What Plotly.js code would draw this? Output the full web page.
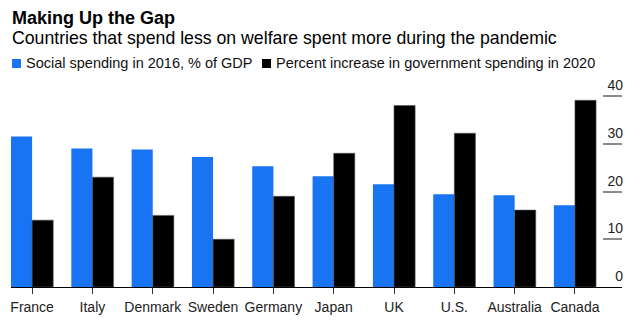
<!DOCTYPE html>
<html>
<head>
<meta charset="utf-8">
<script src="https://cdn.plot.ly/plotly-3.0.1.min.js"></script>
<style>html,body{margin:0;padding:0;background:#fff;}#chart{width:640px;height:326px;}</style>
</head>
<body>
<div id="chart"></div>
<script>
var countries = ["France", "Italy", "Denmark", "Sweden", "Germany", "Japan", "UK", "U.S.", "Australia", "Canada"];
var socialSpending2016 = [31.5, 29.0, 28.8, 27.2, 25.3, 23.2, 21.5, 19.4, 19.2, 17.1];
var spendingIncrease2020 = [14.0, 23.0, 15.0, 10.0, 19.0, 28.0, 38.0, 32.2, 16.1, 39.1];
var seriesNames = ["Social spending in 2016, % of GDP", "Percent increase in government spending in 2020"];
var seriesColors = ["#1874f2", "#000000"];
var yTickVals = [0, 10, 20, 30, 40];

var fontFam = "'Liberation Sans', Arial, Helvetica, sans-serif";

// pixel helpers for layout placement (plot area: x 11..622, y 70..287)
var L = 11, PW = 611, T = 70, B = 287, PH = B - T;
function px(x) { return (x - L) / PW; }
function py(y) { return (B - y) / PH; }
var yTop = PH / 4.775; // keeps 0 at y=287 and 40 at y=96

var traces = [
  {type: "bar", x: countries, y: socialSpending2016, name: seriesNames[0],
   marker: {color: seriesColors[0], line: {width: 0}}, hoverinfo: "x+y"},
  {type: "bar", x: countries, y: spendingIncrease2020, name: seriesNames[1],
   marker: {color: seriesColors[1], line: {width: 0.6, color: "#555"}}, hoverinfo: "x+y"}
];

var legendSquares = [[12, 21], [262, 271]];
var legendTextX = [26, 276];

var shapes = legendSquares.map(function (s, i) {
  return {type: "rect", xref: "paper", yref: "paper",
          x0: px(s[0]), x1: px(s[1]), y0: py(68), y1: py(59),
          fillcolor: seriesColors[i], line: {width: 0}};
});

var annotations = [{
  text: "Countries that spend less on welfare spent more during the pandemic",
  xref: "paper", yref: "paper", x: px(12), y: py(38.4),
  xanchor: "left", yanchor: "middle", showarrow: false, borderpad: 0, borderwidth: 0,
  font: {family: fontFam, size: 17.7, color: "#000"}
}];
seriesNames.forEach(function (n, i) {
  annotations.push({
    text: n, xref: "paper", yref: "paper", x: px(legendTextX[i]), y: py(63),
    xanchor: "left", yanchor: "middle", showarrow: false, borderpad: 0, borderwidth: 0,
    font: {family: fontFam, size: 14.5, color: "#111"}
  });
});

var layout = {
  width: 640, height: 326,
  margin: {l: L, r: 640 - L - PW, t: T, b: 326 - B, pad: 0},
  paper_bgcolor: "#fff", plot_bgcolor: "#fff",
  barmode: "group", bargap: 0.3, bargroupgap: 0,
  font: {family: fontFam, color: "#222", size: 14},
  title: {
    text: "<b>Making Up the Gap</b>",
    font: {family: fontFam, size: 18, color: "#000"},
    x: 12/640, xref: "container", xanchor: "left",
    y: 1 - 17.5/326, yref: "container", yanchor: "middle"
  },
  annotations: annotations,
  shapes: shapes,
  showlegend: false,
  xaxis: {
    type: "category", range: [-0.35, 9.78],
    showline: true, linecolor: "#000", linewidth: 1,
    ticks: "outside", ticklen: 6, tickcolor: "#333", tickwidth: 1,
    ticklabelstandoff: 1,
    showgrid: false, zeroline: false,
    tickfont: {family: fontFam, size: 14, color: "#222"}, fixedrange: true
  },
  yaxis: {
    side: "right", range: [0, yTop], tickvals: yTickVals, ticktext: yTickVals.map(String),
    ticks: "inside", ticklen: 19, tickwidth: 2, tickcolor: "#8a8a8a",
    ticklabelposition: "inside top", ticklabelstandoff: -4,
    showgrid: false, zeroline: false, showline: false,
    tickfont: {family: fontFam, size: 14, color: "#222"}, fixedrange: true
  }
};

Plotly.newPlot("chart", traces, layout, {displayModeBar: false, staticPlot: true});
</script>
</body>
</html>
